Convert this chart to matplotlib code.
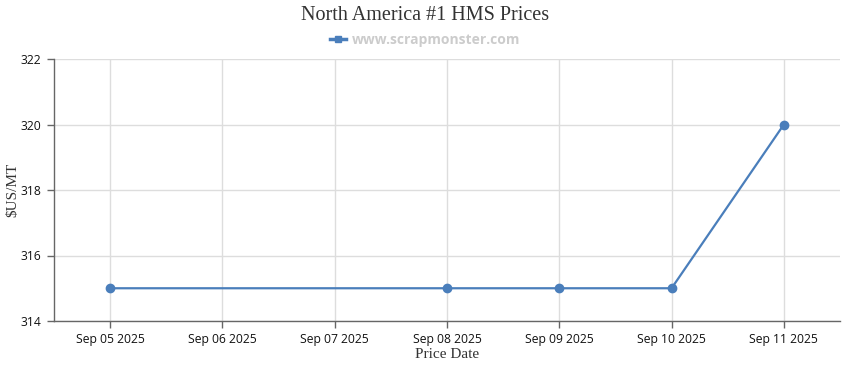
import matplotlib
matplotlib.use("Agg")
import matplotlib.pyplot as plt
from matplotlib.lines import Line2D

# all dates on the axis, and the dates that carry a price
date_labels = ["Sep 05 2025", "Sep 06 2025", "Sep 07 2025", "Sep 08 2025",
               "Sep 09 2025", "Sep 10 2025", "Sep 11 2025"]
price_dates = ["Sep 05 2025", "Sep 08 2025", "Sep 09 2025", "Sep 10 2025", "Sep 11 2025"]
prices = [315, 315, 315, 315, 320]
y_ticks = [314, 316, 318, 320, 322]

blue = "#4a7ebb"
axis_col = "#666666"
grid_col = "#dddddd"
serif = ["Liberation Serif", "DejaVu Serif"]
sans = ["Open Sans", "DejaVu Sans"]

fig = plt.figure(figsize=(8.5, 3.7), dpi=100)
ax = fig.add_axes([54/850, 49/370, 786/850, 262/370])

xs = [date_labels.index(d) for d in price_dates]
ax.plot(xs, prices, color=blue, lw=1.6, marker="o", ms=6, zorder=3)

ax.set_xlim(-0.5, len(date_labels) - 0.5)
ax.set_ylim(314, 322)
ax.set_xticks(range(len(date_labels)))
ax.set_xticklabels(date_labels, fontfamily=sans, fontsize=8.7, color="#111111")
ax.set_yticks(y_ticks)
ax.set_yticklabels([str(v) for v in y_ticks], fontfamily=sans, fontsize=8.7, color="#111111")
ax.tick_params(axis="both", length=5, color=axis_col, width=1, pad=4)

ax.grid(True, color=grid_col, lw=1)
ax.set_axisbelow(True)
for s in ["top", "right"]:
    ax.spines[s].set_visible(False)
for s in ["left", "bottom"]:
    ax.spines[s].set_color(axis_col)
    ax.spines[s].set_linewidth(1)

ax.set_ylabel("$US/MT", fontfamily=serif, fontsize=11, color="#333333")
ax.yaxis.set_label_coords(-(54 - 19) / 786, 0.5)
ax.set_xlabel("Price Date", fontfamily=serif, fontsize=11, color="#333333", labelpad=1)

fig.text(0.5, 1 - 16/370, "North America #1 HMS Prices", ha="center", va="center",
         fontfamily=serif, fontsize=14.5, color="#333333")

handle = Line2D([0], [0], color=blue, lw=2.5, marker="s", ms=5)
fig.legend([handle], ["www.scrapmonster.com"], loc="center", bbox_to_anchor=(0.5, 1 - 40/370),
           frameon=False, handlelength=1.2, handletextpad=0.4,
           prop={"family": sans, "size": 10, "weight": "bold"}, labelcolor="#cccccc")

fig.savefig("out.png", dpi=100)
